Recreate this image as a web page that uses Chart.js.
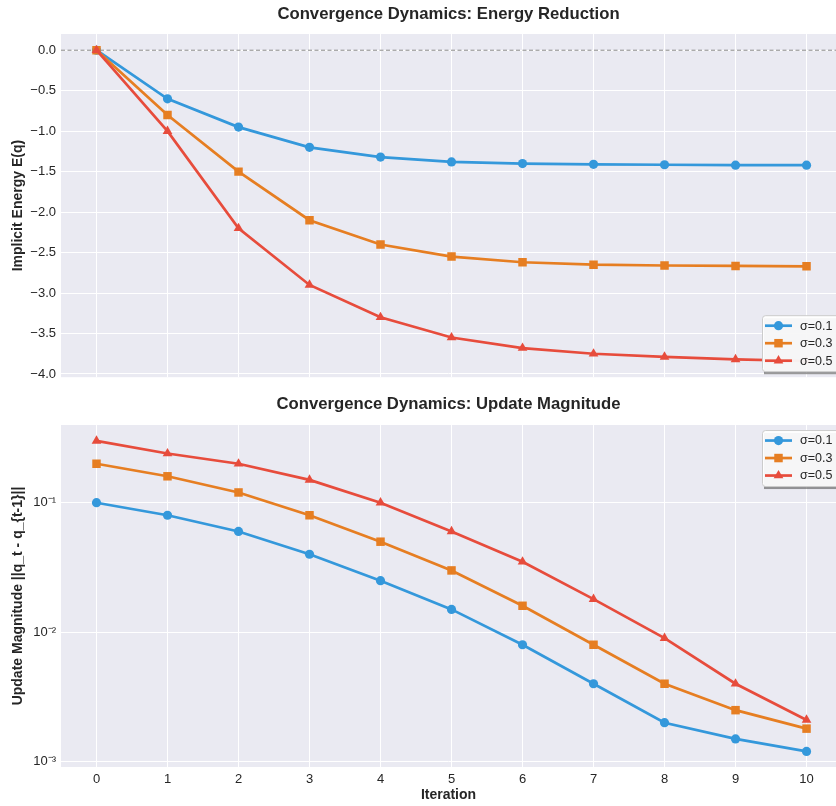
<!DOCTYPE html>
<html>
<head>
<meta charset="utf-8">
<script src="https://cdn.jsdelivr.net/npm/chart.js@4.4.1/dist/chart.umd.min.js"></script>
<style>
  body { margin: 0; background: #fff; overflow: hidden; }
  #wrap { position: relative; width: 836px; height: 806px; overflow: hidden; }
  .box { position: absolute; left: 0; width: 842px; }
</style>
</head>
<body>
<div id="wrap">
  <div class="box" style="top:0;height:390px"><canvas id="energy-chart"></canvas></div>
  <div class="box" style="top:385px;height:421px"><canvas id="update-chart"></canvas></div>
</div>
<script>
// data
const iterations = [0, 1, 2, 3, 4, 5, 6, 7, 8, 9, 10];
const seriesLabels = ['σ=0.1', 'σ=0.3', 'σ=0.5'];

const energy01 = [0, -0.6, -0.95, -1.2, -1.32, -1.38, -1.40, -1.41, -1.415, -1.42, -1.42];
const energy03 = [0, -0.8, -1.5, -2.1, -2.4, -2.55, -2.62, -2.65, -2.66, -2.665, -2.67];
const energy05 = [0, -1.0, -2.2, -2.9, -3.3, -3.55, -3.68, -3.75, -3.79, -3.82, -3.84];

const update01 = [0.1, 0.08, 0.06, 0.04, 0.025, 0.015, 0.008, 0.004, 0.002, 0.0015, 0.0012];
const update03 = [0.2, 0.16, 0.12, 0.08, 0.05, 0.03, 0.016, 0.008, 0.004, 0.0025, 0.0018];
const update05 = [0.3, 0.24, 0.2, 0.15, 0.1, 0.06, 0.035, 0.018, 0.009, 0.004, 0.0021];

const energyTicks = [-4.0, -3.5, -3.0, -2.5, -2.0, -1.5, -1.0, -0.5, 0.0];
const updateTicks = [0.001, 0.01, 0.1];
const updateTickLabels = ['10⁻³', '10⁻²', '10⁻¹'];

const colors = ['#3498db', '#e67e22', '#e74c3c'];
const markers = ['circle', 'rect', 'triangle'];
const markerSizes = [4.6, 6, 5.6];
const FONT = "'Liberation Sans', Arial, sans-serif";
const TEXT = '#262626';

Chart.defaults.font.family = FONT;
Chart.defaults.color = TEXT;

function makeSets(arrays) {
    return arrays.map((arr, i) => ({
        label: seriesLabels[i],
        data: iterations.map((x, j) => ({ x: x, y: arr[j] })),
        borderColor: colors[i],
        backgroundColor: colors[i],
        borderWidth: 2.7,
        pointStyle: markers[i],
        pointRadius: markerSizes[i],
        pointBorderWidth: 0,
        order: 3 - i,
        tension: 0
    }));
}

// grey plot background
const bgPlugin = {
    id: 'plotBg',
    beforeDraw(chart) {
        const a = chart.chartArea;
        chart.ctx.save();
        chart.ctx.fillStyle = '#eaeaf2';
        chart.ctx.fillRect(a.left, a.top, a.right - a.left, a.bottom - a.top);
        chart.ctx.restore();
    }
};

// dashed line at zero
const zeroPlugin = {
    id: 'zeroLine',
    beforeDatasetsDraw(chart, args, opts) {
        if (!opts.show) return;
        const a = chart.chartArea;
        const y = chart.scales.y.getPixelForValue(0);
        const ctx = chart.ctx;
        ctx.save();
        ctx.strokeStyle = 'rgba(100,100,100,0.75)';
        ctx.lineWidth = 1;
        ctx.setLineDash([4, 2.5]);
        ctx.beginPath();
        ctx.moveTo(a.left, y);
        ctx.lineTo(a.right, y);
        ctx.stroke();
        ctx.restore();
    }
};

// matplotlib-like legend box with shadow
const boxLegend = {
    id: 'boxLegend',
    afterDraw(chart, args, opts) {
        const a = chart.chartArea;
        const ctx = chart.ctx;
        const w = 84, h = 56;
        const x = a.right - 74;
        const y = opts.place === 'lower' ? a.bottom - h - 6 : a.top + 5;
        ctx.save();
        ctx.fillStyle = 'rgba(70,70,70,0.55)';
        ctx.fillRect(x + 2, y + 3, w, h);
        ctx.fillStyle = 'rgba(255,255,255,0.92)';
        ctx.strokeStyle = '#cccccc';
        ctx.lineWidth = 1;
        ctx.beginPath();
        ctx.roundRect(x + 0.5, y + 0.5, w, h, 3);
        ctx.fill();
        ctx.stroke();
        chart.data.datasets.forEach((ds, i) => {
            const ry = y + 10.5 + i * 17.5;
            ctx.strokeStyle = ds.borderColor;
            ctx.fillStyle = ds.borderColor;
            ctx.lineWidth = 2.7;
            ctx.beginPath();
            ctx.moveTo(x + 3, ry);
            ctx.lineTo(x + 30, ry);
            ctx.stroke();
            Chart.helpers.drawPoint(ctx, { pointStyle: ds.pointStyle, radius: ds.pointRadius, rotation: 0, borderWidth: 0 }, x + 16.5, ry);
            ctx.fillStyle = TEXT;
            ctx.font = '12.5px ' + FONT;
            ctx.textBaseline = 'middle';
            ctx.fillText(ds.label, x + 38, ry + 0.5);
        });
        ctx.restore();
    }
};

const xScale = (showLabels) => ({
    type: 'linear',
    min: -0.5,
    max: 10.415,
    afterBuildTicks: (s) => { s.ticks = iterations.map(v => ({ value: v })); },
    afterFit: (s) => { s.height = showLabels ? 39 : 1; },
    grid: { color: '#ffffff', lineWidth: 1, drawTicks: false },
    border: { display: false },
    ticks: { display: showLabels, padding: 5, font: { size: 13 }, color: TEXT },
    title: {
        display: showLabels,
        text: 'Iteration',
        font: { size: 14, weight: 'bold' },
        color: TEXT,
        padding: { top: 0, bottom: 2 }
    }
});

new Chart(document.getElementById('energy-chart'), {
    type: 'line',
    data: { datasets: makeSets([energy01, energy03, energy05]) },
    plugins: [bgPlugin, zeroPlugin, boxLegend],
    options: {
        responsive: true,
        maintainAspectRatio: false,
        animation: false,
        layout: { padding: 0 },
        plugins: {
            legend: { display: false },
            tooltip: { enabled: false },
            zeroLine: { show: true },
            boxLegend: { place: 'lower' },
            title: {
                display: true,
                fullSize: false,
                text: 'Convergence Dynamics: Energy Reduction',
                font: { size: 16.7, weight: 'bold' },
                color: TEXT,
                padding: { top: 4, bottom: 10 }
            }
        },
        scales: {
            x: xScale(false),
            y: {
                min: -4.04,
                max: 0.2,
                afterBuildTicks: (s) => { s.ticks = energyTicks.map(v => ({ value: v })); },
                afterFit: (s) => { s.width = 61; },
                grid: { color: '#ffffff', lineWidth: 1, drawTicks: false },
                border: { display: false },
                ticks: {
                    padding: 5,
                    font: { size: 13 },
                    color: TEXT,
                    callback: (v) => (v < 0 ? '−' : '') + Math.abs(v).toFixed(1)
                },
                title: {
                    display: true,
                    text: 'Implicit Energy E(q)',
                    font: { size: 14, weight: 'bold' },
                    color: TEXT,
                    padding: { top: 10, bottom: 0 }
                }
            }
        }
    }
});

new Chart(document.getElementById('update-chart'), {
    type: 'line',
    data: { datasets: makeSets([update01, update03, update05]) },
    plugins: [bgPlugin, boxLegend],
    options: {
        responsive: true,
        maintainAspectRatio: false,
        animation: false,
        layout: { padding: 0 },
        plugins: {
            legend: { display: false },
            tooltip: { enabled: false },
            boxLegend: { place: 'upper' },
            title: {
                display: true,
                fullSize: false,
                text: 'Convergence Dynamics: Update Magnitude',
                font: { size: 16.7, weight: 'bold' },
                color: TEXT,
                padding: { top: 9, bottom: 11 }
            }
        },
        scales: {
            x: xScale(true),
            y: {
                type: 'logarithmic',
                min: 0.00091,
                max: 0.398,
                afterBuildTicks: (s) => { s.ticks = updateTicks.map(v => ({ value: v })); },
                afterFit: (s) => { s.width = 61; },
                grid: { color: '#ffffff', lineWidth: 1, drawTicks: false },
                border: { display: false },
                ticks: {
                    padding: 5,
                    font: { size: 13 },
                    color: TEXT,
                    callback: (v) => {
                        const i = updateTicks.findIndex(t => Math.abs(t - v) < v * 1e-6);
                        return i >= 0 ? updateTickLabels[i] : '';
                    }
                },
                title: {
                    display: true,
                    text: 'Update Magnitude ||q_t - q_{t-1}||',
                    font: { size: 14, weight: 'bold' },
                    color: TEXT,
                    padding: { top: 10, bottom: 0 }
                }
            }
        }
    }
});
</script>
</body>
</html>
